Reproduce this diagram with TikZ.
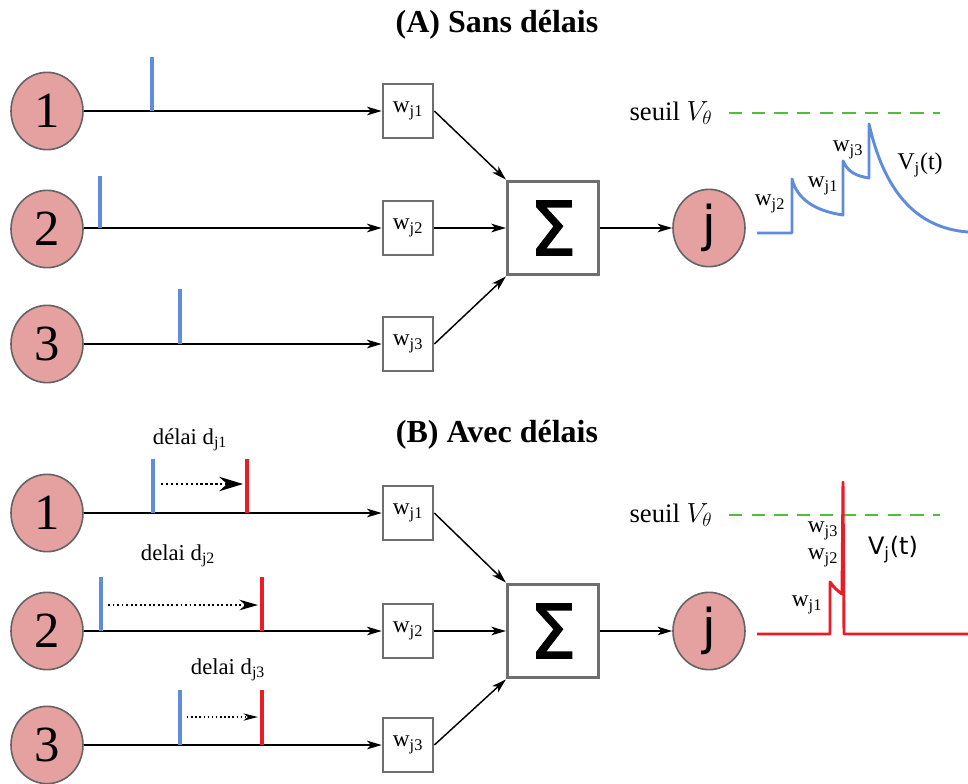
\documentclass[tikz,border=0pt]{standalone}
\usepackage{fontspec}
\setmainfont{Liberation Serif}
\newfontfamily\dejavu{DejaVu Sans}
\newfontfamily\sigfont[FakeBold=1.6]{DejaVu Sans}
\usetikzlibrary{arrows.meta,shapes.geometric}
\definecolor{nodefill}{RGB}{229,160,160}
\definecolor{nodeedge}{RGB}{100,100,100}
\definecolor{spikeblue}{RGB}{95,141,220}
\definecolor{spikered}{RGB}{237,28,36}
\definecolor{threshgreen}{RGB}{80,190,60}
\definecolor{boxedge}{RGB}{110,110,110}
\tikzset{
  neuron/.style={ellipse, draw=nodeedge, line width=1.2pt, fill=nodefill, minimum width=54pt, minimum height=58pt, inner sep=0pt, font=\fontsize{38}{40}\selectfont},
  jneuron/.style={neuron, font=\dejavu\fontsize{37}{40}\selectfont},
  wbox/.style={draw=boxedge, line width=1.5pt, minimum width=38pt, minimum height=40pt, inner sep=0pt, font=\fontsize{17.5}{20}\selectfont},
  sumbox/.style={draw=boxedge, line width=2.6pt, minimum width=68pt, minimum height=70pt, inner sep=0pt, font=\sigfont\fontsize{56}{60}\selectfont},
  conn/.style={line width=1.1pt, -{Stealth[length=11pt,width=6.5pt,inset=3pt]}},
  spikeb/.style={line width=2.6pt, spikeblue},
  spiker/.style={line width=2.6pt, spikered},
  thresh/.style={line width=2.2pt, threshgreen, dash pattern=on 10pt off 7pt},
  title/.style={font=\bfseries\fontsize{24}{28}\selectfont},
  lbl/.style={font=\fontsize{17}{19}\selectfont, inner sep=0pt},
  wlbl/.style={font=\fontsize{17.5}{20}\selectfont, inner sep=0pt},
  seuil/.style={font=\fontsize{20}{23}\selectfont, inner sep=0pt},
  wave/.style={line width=2.2pt, line join=round}
}
\begin{document}
\begin{tikzpicture}[x=0.75pt,y=-0.75pt]
\useasboundingbox (0,0) rectangle (968,783);

% ---------- (A) ----------
\node[title] (tA) at (497,25) {(A) Sans délais};
\node[neuron] (n1) at (47,111) {1};
\node[neuron] (n2) at (47,229) {2};
\node[neuron] (n3) at (47,344) {3};
\node[wbox] (w1) at (408,111) {w\textsubscript{j1}};
\node[wbox] (w2) at (408,228) {w\textsubscript{j2}};
\node[wbox] (w3) at (408,344) {w\textsubscript{j3}};
\node[sumbox] (s) at (553,228) {Σ};
\node[jneuron] (j) at (709,228) {j};
\draw[conn] (n1) -- (w1);
\draw[conn] (n2.east |- w2) -- (w2);
\draw[conn] (n3) -- (w3);
\draw[conn] (w1.east) -- (s.north west);
\draw[conn] (w2.east) -- (s.west);
\draw[conn] (w3.east) -- (s.south west);
\draw[conn] (s.east) -- (j.west);
\draw[spikeb] (152,57) -- (152,111);
\draw[spikeb] (100,176) -- (100,228);
\draw[spikeb] (180,289) -- (180,344);

\node[seuil] (sa) at (671,113) {seuil $V_\theta$};
\coordinate (ta1) at (729,113);
\coordinate (ta2) at (940,113);
\draw[thresh] (ta1) -- (ta2);
\draw[wave, spikeblue] (757,233) -- (792,233) -- (792,179)
  .. controls (797,199) and (815,211) .. (843,215) -- (843,161)
  .. controls (848,172) and (856,176) .. (869,178) -- (869,124)
  .. controls (884,190) and (915,228) .. (968,232);
\node[wlbl] at (770,204) {w\textsubscript{j2}};
\node[wlbl] at (823,186) {w\textsubscript{j1}};
\node[wlbl] at (848,150) {w\textsubscript{j3}};
\node[font=\fontsize{18}{20}\selectfont, inner sep=0pt] at (920,165) {V\textsubscript{j}(t)};

% ---------- (B) ----------
\node[title] (tB) at (497,435) {(B) Avec délais};
\node[neuron] (m1) at (47,513) {1};
\node[neuron] (m2) at (47,631) {2};
\node[neuron] (m3) at (47,745) {3};
\node[wbox] (v1) at (408,513) {w\textsubscript{j1}};
\node[wbox] (v2) at (408,631) {w\textsubscript{j2}};
\node[wbox] (v3) at (408,745) {w\textsubscript{j3}};
\node[sumbox] (s2) at (553,631) {Σ};
\node[jneuron] (j2) at (709,631) {j};
\draw[conn] (m1) -- (v1);
\draw[conn] (m2) -- (v2);
\draw[conn] (m3) -- (v3);
\draw[conn] (v1.east) -- (s2.north west);
\draw[conn] (v2.east) -- (s2.west);
\draw[conn] (v3.east) -- (s2.south west);
\draw[conn] (s2.east) -- (j2.west);

\draw[spikeb] (153,459) -- (153,513);
\draw[spiker] (247,459) -- (247,513);
\draw[spikeb] (101,577) -- (101,631);
\draw[spiker] (262,577) -- (262,631);
\draw[spikeb] (180,690) -- (180,745);
\draw[spiker] (262,690) -- (262,745);

\coordinate (d1a) at (161,484);
\coordinate (d1b) at (243,484);
\coordinate (d2a) at (108,605);
\coordinate (d2b) at (258,605);
\coordinate (d3a) at (187,717);
\coordinate (d3b) at (258,717);
\draw[line width=1.7pt, dotted, -{Stealth[length=18pt,width=11pt,inset=6pt,line width=0pt]}] (d1a) -- (d1b);
\draw[line width=1.4pt, dotted, -{Stealth[length=14pt,width=8pt,inset=4.5pt,line width=0pt]}] (d2a) -- (d2b);
\draw[line width=1.1pt, dotted, -{Stealth[length=11pt,width=5.5pt,inset=3.5pt,line width=0pt]}] (d3a) -- (d3b);
\node[lbl] at (190,440) {délai d\textsubscript{j1}};
\node[lbl] at (178,556) {delai d\textsubscript{j2}};
\node[lbl] at (228,670) {delai d\textsubscript{j3}};

\node[seuil] (sb) at (671,515) {seuil $V_\theta$};
\coordinate (tb1) at (729,515);
\coordinate (tb2) at (940,515);
\draw[thresh] (tb1) -- (tb2);
\draw[wave, spikered] (757,634) -- (830,634) -- (830,582)
  .. controls (834,588) and (838,591) .. (842,594) -- (843,482) -- (844,634) -- (968,634);
\node[wlbl] at (823,531) {w\textsubscript{j3}};
\node[wlbl] at (823,558) {w\textsubscript{j2}};
\node[wlbl] at (807,605) {w\textsubscript{j1}};
\node[font=\dejavu\fontsize{18}{20}\selectfont, inner sep=0pt] at (893,550) {V\textsubscript{j}(t)};
\end{tikzpicture}
\end{document}
